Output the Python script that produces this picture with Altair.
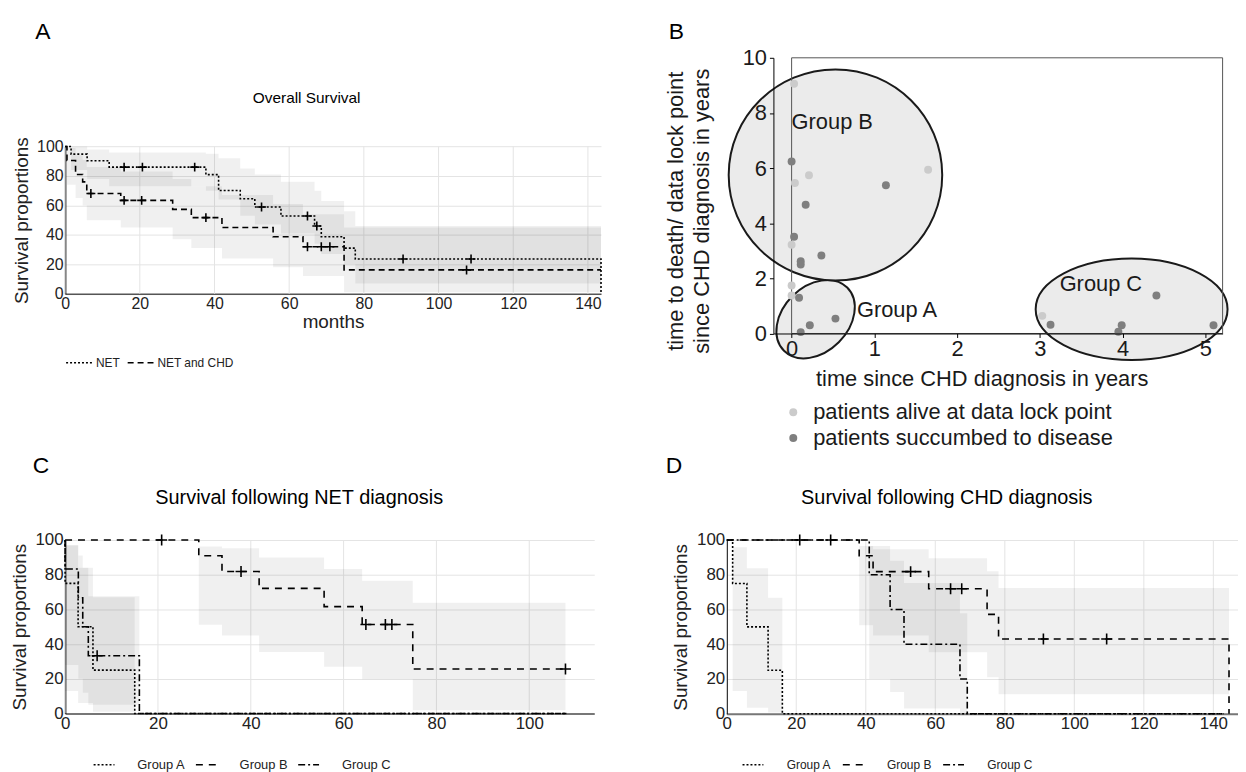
import altair as alt
import pandas as pd

FONT = "Liberation Sans"

# ================= Panel A : Overall Survival (months) =================
A_GROUPS = ["NET", "NET and CHD"]
A_NET_T = [0, 1.6, 5.9, 11.8, 37.7, 41.1, 46.9, 50.8, 57.8, 66.8, 68.6, 74.7, 77.7, 143.5, 143.5]
A_NET_S = [100, 94.8, 90.3, 86, 80.9, 70.1, 64.5, 58.9, 52.8, 46, 38.7, 31, 23.6, 23.6, 0]
A_CHD_T = [0, 0.5, 2.8, 4.7, 5.8, 14.9, 28.8, 33.8, 42, 55.7, 63.7, 74.7, 143.5]
A_CHD_S = [100, 90.5, 81, 76, 68.1, 63.4, 57.3, 51.7, 45, 38.7, 31.9, 16.2, 16.2]
A_NET_CT = [15.8, 20.7, 34.7, 52.6, 64.9, 67.4, 90.5, 108.7]
A_NET_CS = [86, 86, 86, 58.9, 52.8, 46, 23.6, 23.6]
A_CHD_CT = [6.9, 15.8, 20.5, 37.7, 64.9, 68.6, 70.9, 107.5]
A_CHD_CS = [68.1, 63.4, 63.4, 51.7, 31.9, 31.9, 31.9, 16.2]
A_NET_BT = [0, 1.6, 5.9, 11.8, 37.7, 41.1, 46.9, 50.8, 57.8, 66.8, 68.6, 74.7, 77.7, 143.5]
A_NET_BU = [100, 100, 98, 96, 95, 92, 85, 81, 76, 70, 63, 56, 46, 46]
A_NET_BL = [100, 84, 78, 73, 70, 64, 53, 47, 41, 34, 27, 20, 7, 7]
A_CHD_BT = [0, 0.5, 2.8, 4.7, 5.8, 14.9, 28.8, 33.8, 42, 55.7, 63.7, 74.7, 143.5]
A_CHD_BU = [100, 99, 94, 91, 86, 83, 78, 73, 67, 61, 54, 45, 45]
A_CHD_BL = [100, 74, 65, 60, 50, 45, 37, 31, 24, 18, 12, 1, 1]
A_XTICKS = [0, 20, 40, 60, 80, 100, 120, 140]
A_XMAX = 143.5

# ================= Panel B : scatter =================
B_STATUS = ["patients alive at data lock point", "patients succumbed to disease"]
B_ALIVE_X = [0.03, 0.21, 0.04, 1.65, 0.0, 0.0, 0.0, 3.03]
B_ALIVE_Y = [9.06, 5.74, 5.46, 5.94, 3.22, 1.74, 1.38, 0.64]
B_DEAD_X = [0.0, 1.14, 0.17, 0.03, 0.36, 0.11, 0.11, 0.09, 0.53, 0.22, 0.11, 3.13, 3.99, 3.95, 4.41, 5.10]
B_DEAD_Y = [6.24, 5.38, 4.67, 3.51, 2.83, 2.62, 2.50, 1.30, 0.54, 0.30, 0.05, 0.32, 0.30, 0.06, 1.38, 0.30]
B_GROUP_LABELS = ["Group A", "Group B", "Group C"]
B_GROUP_CX = [0.29, 0.53, 4.11]
B_GROUP_CY = [0.52, 5.75, 0.88]
B_LABEL_X = [0.79, 0.0, 3.24]
B_LABEL_Y = [0.86, 7.68, 1.80]
B_XTICKS = [0, 1, 2, 3, 4, 5]
B_YTICKS = [0, 2, 4, 6, 8, 10]
B_XMIN, B_XMAX = -0.22, 5.21

# ================= Panel C : following NET diagnosis =================
GROUPS = ["Group A", "Group B", "Group C"]
C_A_T = [0, 0, 2.8, 6, 15, 108]
C_A_S = [100, 75, 50, 25, 0, 0]
C_B_T = [0, 28.8, 33.8, 41.8, 55.8, 64, 74.9, 107.8]
C_B_S = [100, 90.9, 81.8, 72.1, 61.6, 51.3, 25.6, 25.6]
C_C_T = [0, 0, 2.85, 3.8, 5, 16, 108]
C_C_S = [100, 83.3, 66.7, 50, 33.3, 0, 0]
C_B_CT = [20.8, 37.9, 64.8, 69, 70.4, 107.8]
C_B_CS = [100, 81.8, 51.3, 51.3, 51.3, 25.6]
C_C_CT = [6.9]
C_C_CS = [33.3]
C_A_BT = [0, 2.8, 6, 15]
C_A_BU = [97, 84, 67, 67]
C_A_BL = [13, 6, 1, 1]
C_B_BT = [28.8, 33.8, 41.8, 55.8, 64, 74.9, 107.8]
C_B_BU = [96.2, 95.2, 89.9, 83.2, 76.5, 63.8, 63.8]
C_B_BL = [51.1, 45, 35.5, 26.9, 19.7, 1.9, 1.9]
C_C_BT = [0, 2.85, 3.8, 5, 16]
C_C_BU = [97, 91, 84, 67.5, 67.5]
C_C_BL = [28, 20, 12, 5, 5]
C_XTICKS = [0, 20, 40, 60, 80, 100]
C_XMAX = 114

# ================= Panel D : following CHD diagnosis =================
D_A_T = [0, 1.7, 5.8, 11.9, 16, 143]
D_A_S = [100, 75, 50, 25, 0, 0]
D_B_T = [0, 38.1, 42.1, 58.1, 74.9, 78.2, 144.5, 144.5]
D_B_S = [100, 90.9, 81.8, 71.9, 57.2, 43, 43, 0]
D_C_T = [0, 41, 47, 51, 67.1, 69.2, 143]
D_C_S = [100, 80, 60, 40, 20, 0, 0]
D_B_CT = [52.9, 64.4, 67.6, 91.1, 109.3]
D_B_CS = [81.8, 71.9, 71.9, 43, 43]
D_C_CT = [21, 29.9]
D_C_CS = [100, 100]
D_A_BT = [1.7, 5.8, 11.9, 16]
D_A_BU = [95.8, 83.8, 66.7, 66.7]
D_A_BL = [13.1, 3.4, 0.8, 0.8]
D_B_BT = [38.1, 42.1, 58.1, 74.9, 78.2, 144.5]
D_B_BU = [96.6, 94.7, 89.5, 82, 72.4, 72.4]
D_B_BL = [51, 45, 35.4, 21, 11.2, 11.2]
D_C_BT = [41, 47, 51, 67.1, 69.2]
D_C_BU = [96.6, 88, 75.3, 57.8, 57.8]
D_C_BL = [20, 12.5, 3, 0, 0]
D_XTICKS = [0, 20, 40, 60, 80, 100, 120, 140]
D_XMAX = 147

Y_TICKS = [0, 20, 40, 60, 80, 100]
GRID = "#e4e4e4"


# ---------------- helpers to build tables ----------------
def steps_df(items):
    rows = []
    for g, ts, ss in items:
        for i, (t, s) in enumerate(zip(ts, ss)):
            rows.append({"t": t, "s": s, "g": g, "o": i})
    return pd.DataFrame(rows)


def band_df(items):
    rows = []
    for g, ts, us, ls in items:
        for t, u, l in zip(ts, us, ls):
            rows.append({"t": t, "s": u, "s2": l, "g": g})
    return pd.DataFrame(rows)


def cens_df(items):
    rows = []
    for g, ts, ss in items:
        for t, s in zip(ts, ss):
            rows.append({"t": t, "s": s, "g": g})
    return pd.DataFrame(rows)


def label(txt, x, y, size, align="center"):
    return alt.Chart(pd.DataFrame({"txt": [txt]})).mark_text(
        x=x, y=y, fontSize=size, align=align, baseline="middle", color="black", font=FONT
    ).encode(text="txt:N")


PLUS = "M0,-1L0,1M-1,0L1,0"


def km_panel(lines, bands, cens, groups, dashes, xmax, xticks, width, height, plot_top,
             x_axis, y_axis, legend, cens_size, texts):
    xs = alt.Scale(domain=[0, xmax], nice=False, zero=False)
    ys = alt.Scale(domain=[0, 100], nice=False, range=[height, plot_top])
    X = lambda f: alt.X(f, scale=xs, axis=x_axis)
    Y = lambda f: alt.Y(f, scale=ys, axis=y_axis)
    vgrid = alt.Chart(pd.DataFrame({"t": xticks, "lo": [0] * len(xticks), "hi": [100] * len(xticks)})).mark_rule(
        color=GRID, strokeWidth=1
    ).encode(x=X("t:Q"), y=Y("lo:Q"), y2="hi:Q")
    band = alt.Chart(bands).mark_area(
        interpolate="step-after", fill="black", fillOpacity=0.06
    ).encode(x=X("t:Q"), y=Y("s:Q"), y2="s2:Q", detail="g:N")
    line = alt.Chart(lines).mark_line(
        interpolate="step-after", color="black", strokeWidth=1.6
    ).encode(
        x=X("t:Q"),
        y=Y("s:Q"),
        order="o:Q",
        strokeDash=alt.StrokeDash("g:N", scale=alt.Scale(domain=groups, range=dashes), legend=legend),
    )
    cen = alt.Chart(cens).mark_point(
        shape=PLUS, size=cens_size, filled=False, stroke="black", strokeWidth=1.6, opacity=1
    ).encode(x=X("t:Q"), y=Y("s:Q"))
    return alt.layer(vgrid, band, line, cen, *texts).properties(width=width, height=height)


def km_axes(xticks, xtitle, label_size, title_size, title_x, title_y, x_domain_color, x_domain_width,
            xtitle_y=None):
    xkw = dict(values=xticks, ticks=False, labelPadding=2, labelFontSize=label_size, labelColor="#222222",
               labelFlush=False, labelOverlap=False, grid=False,
               domainColor=x_domain_color, domainWidth=x_domain_width)
    if xtitle:
        xkw.update(title=xtitle, titleFontSize=title_size, titleFontWeight="normal", titleColor="#222222",
                   titleY=xtitle_y, titleBaseline="middle")
    else:
        xkw.update(title="")
    x_axis = alt.Axis(**xkw)
    y_axis = alt.Axis(values=Y_TICKS, tickCount=len(Y_TICKS), ticks=False, labelPadding=2,
                      labelFontSize=label_size, labelColor="#222222", labelOverlap=False,
                      labelSeparation=0, grid=True, gridColor=GRID,
                      domainColor="black", domainWidth=1.5, title="Survival proportions",
                      titleFontSize=title_size, titleFontWeight="normal", titleColor="#222222",
                      titleX=title_x, titleY=title_y, titleBaseline="middle", titleAngle=270)
    return x_axis, y_axis


def km_legend(x, y, size, sym_len, offset, colpad):
    return alt.Legend(title=None, orient="none", legendX=x, legendY=y, direction="horizontal",
                      symbolType="stroke", symbolSize=sym_len * sym_len, symbolStrokeColor="black",
                      symbolStrokeWidth=1.5, labelFontSize=size, labelColor="#222222",
                      labelOffset=offset, columnPadding=colpad, padding=0, labelLimit=300)


# ---------------- Panel A ----------------
# view top is shared with panel B; the survival scale occupies the lower part of the view
WA, HA = 539.6, 237.6
A_PLOT_TOP = 89.3
ax_a, ay_a = km_axes(A_XTICKS, "months", 16, 19, -44.3, (A_PLOT_TOP + HA) / 2, "#555555", 1.5, 28.2)
panel_a = km_panel(
    steps_df([(A_GROUPS[0], A_NET_T, A_NET_S), (A_GROUPS[1], A_CHD_T, A_CHD_S)]),
    band_df([(A_GROUPS[0], A_NET_BT, A_NET_BU, A_NET_BL), (A_GROUPS[1], A_CHD_BT, A_CHD_BU, A_CHD_BL)]),
    cens_df([(A_GROUPS[0], A_NET_CT, A_NET_CS), (A_GROUPS[1], A_CHD_CT, A_CHD_CS)]),
    A_GROUPS, [[2, 2], [6, 4]], A_XMAX, A_XTICKS, WA, HA, A_PLOT_TOP, ax_a, ay_a,
    km_legend(0, 292.3, 12, 27, 2, 5), 81,
    [label("A", -22.3, -25.7, 23), label("Overall Survival", 243.2, 40.8, 15.5)],
)

# ---------------- Panel B ----------------
WB, HB = 452.3, 277.6
bxs = alt.Scale(domain=[B_XMIN, B_XMAX], nice=False, zero=False)
bys = alt.Scale(domain=[0, 10], nice=False)


def ellipse_path(rx, ry):
    k = 0.5523
    f = lambda v: f"{v:.4f}"
    return (f"M{f(rx)},0 C{f(rx)},{f(k*ry)} {f(k*rx)},{f(ry)} 0,{f(ry)} "
            f"C{f(-k*rx)},{f(ry)} {f(-rx)},{f(k*ry)} {f(-rx)},0 "
            f"C{f(-rx)},{f(-k*ry)} {f(-k*rx)},{f(-ry)} 0,{f(-ry)} "
            f"C{f(k*rx)},{f(-ry)} {f(rx)},{f(-k*ry)} {f(rx)},0 Z")


# ellipse styles: (path x-radius, path y-radius, pixel scale radius, rotation)
ELLIPSE_STYLE = [(0.733, 1.0, 45, 45), (1.0, 0.989, 107.5, 0), (1.0, 0.528, 96.6, 0)]

ellipses = []
for i, (rx, ry, r, ang) in enumerate(ELLIPSE_STYLE):
    ellipses.append(
        alt.Chart(pd.DataFrame({"x": [B_GROUP_CX[i]], "y": [B_GROUP_CY[i]]})).mark_point(
            shape=ellipse_path(rx, ry), size=(2 * r) ** 2, angle=ang, filled=True,
            fill="#ebebeb", stroke="#1a1a1a", strokeWidth=2, opacity=1
        ).encode(x=alt.X("x:Q", scale=bxs), y=alt.Y("y:Q", scale=bys))
    )

b_x_axis = alt.Axis(values=B_XTICKS, format="d", title="time since CHD diagnosis in years", titleX=209.7,
                    titleY=45.7, titleBaseline="middle", titleFontSize=22, titleFontWeight="normal",
                    titleColor="#1a1a1a", labelFontSize=22, labelColor="#1a1a1a", tickSize=4,
                    tickColor="black", labelPadding=1, grid=False, domainColor="black", domainWidth=1,
                    labelFlush=False, labelOverlap=False, zindex=1)
b_y_axis = alt.Axis(values=B_YTICKS, format="d",
                    title=["time to death/ data lock point", "since CHD diagnosis in years"],
                    titleX=-99, titleY=154, titleBaseline="middle", titleAngle=270, titleLineHeight=27,
                    titleFontSize=22, titleFontWeight="normal", titleColor="#1a1a1a",
                    labelFontSize=22, labelColor="#1a1a1a", tickSize=4, tickColor="black", labelPadding=3,
                    labelOverlap=False, grid=False, domainColor="black", domainWidth=1, zindex=1)

frame = alt.Chart(pd.DataFrame({"x": [0.0], "x2": [B_XMAX], "y": [0.0], "y2": [10.0]})).mark_rect(
    fillOpacity=0, stroke="#555555", strokeWidth=1
).encode(
    x=alt.X("x:Q", scale=bxs, axis=b_x_axis), x2="x2:Q",
    y=alt.Y("y:Q", scale=bys, axis=b_y_axis), y2="y2:Q",
)

pts_df = pd.DataFrame({
    "x": B_ALIVE_X + B_DEAD_X,
    "y": B_ALIVE_Y + B_DEAD_Y,
    "status": [B_STATUS[0]] * len(B_ALIVE_X) + [B_STATUS[1]] * len(B_DEAD_X),
})
points = alt.Chart(pts_df).mark_circle(size=64, opacity=1).encode(
    x="x:Q", y="y:Q",
    color=alt.Color("status:N", scale=alt.Scale(domain=B_STATUS, range=["#cbcbcb", "#7f7f7f"]),
                    legend=alt.Legend(title=None, orient="none", legendX=9, legendY=345.8,
                                      direction="vertical", symbolType="circle", symbolSize=64,
                                      symbolStrokeWidth=0, labelFontSize=22, labelColor="#1a1a1a",
                                      labelOffset=9, rowPadding=4, padding=0, labelLimit=500)),
)
glabels = alt.Chart(pd.DataFrame({"x": B_LABEL_X, "y": B_LABEL_Y, "txt": B_GROUP_LABELS})).mark_text(
    align="left", baseline="middle", fontSize=22, color="#1a1a1a", font=FONT
).encode(x="x:Q", y="y:Q", text="txt:N")

panel_b = alt.layer(*ellipses, frame, points, glabels, label("B", -97.6, -25.7, 23)).properties(
    width=WB, height=HB)

# ---------------- Panel C ----------------
WC, HC = 532.8, 174.7
ax_c, ay_c = km_axes(C_XTICKS, None, 17, 19, -46.3, HC / 2, "#777777", 2)
DASHES = [[2, 2], [7, 6], [7, 3, 2, 3]]
panel_c = km_panel(
    steps_df([(GROUPS[0], C_A_T, C_A_S), (GROUPS[1], C_B_T, C_B_S), (GROUPS[2], C_C_T, C_C_S)]),
    band_df([(GROUPS[0], C_A_BT, C_A_BU, C_A_BL), (GROUPS[1], C_B_BT, C_B_BU, C_B_BL),
             (GROUPS[2], C_C_BT, C_C_BU, C_C_BL)]),
    cens_df([(GROUPS[1], C_B_CT, C_B_CS), (GROUPS[2], C_C_CT, C_C_CS)]),
    GROUPS, DASHES, C_XMAX, C_XTICKS, WC, HC, 0, ax_c, ay_c,
    km_legend(27.7, 214.5, 13, 21, 22, 7), 121,
    [label("C", -24.3, -74, 23), label("Survival following NET diagnosis", 235.7, -42, 20)],
)

# ---------------- Panel D ----------------
WD, HD = 514.5, 175.0
ax_d, ay_d = km_axes(D_XTICKS, None, 17, 19, -46.3, HD / 2, "#777777", 2)
panel_d = km_panel(
    steps_df([(GROUPS[0], D_A_T, D_A_S), (GROUPS[1], D_B_T, D_B_S), (GROUPS[2], D_C_T, D_C_S)]),
    band_df([(GROUPS[0], D_A_BT, D_A_BU, D_A_BL), (GROUPS[1], D_B_BT, D_B_BU, D_B_BL),
             (GROUPS[2], D_C_BT, D_C_BU, D_C_BL)]),
    cens_df([(GROUPS[1], D_B_CT, D_B_CS), (GROUPS[2], D_C_CT, D_C_CS)]),
    GROUPS, DASHES, D_XMAX, D_XTICKS, WD, HD, 0, ax_d, ay_d,
    km_legend(14.9, 214.5, 12, 21, 22.5, 8), 121,
    [label("D", -53, -74, 23), label("Survival following CHD diagnosis", 221.6, -42, 20)],
)

RES = dict(x="independent", y="independent", strokeDash="independent", color="independent")

row1 = alt.hconcat(panel_a, panel_b, spacing=60.2).resolve_scale(**RES).resolve_legend(
    strokeDash="independent", color="independent")
row2 = alt.hconcat(panel_c, panel_d, spacing=71.2).resolve_scale(**RES).resolve_legend(
    strokeDash="independent", color="independent")

chart = alt.vconcat(row1, row2, spacing=6.5).resolve_scale(**RES).resolve_legend(
    strokeDash="independent", color="independent"
).properties(
    padding={"left": 1.5, "top": 10.5, "right": 0, "bottom": 0}
).configure(font=FONT).configure_axis(labelOverlap=False).configure_view(strokeWidth=0)

chart.save("out.html", embed_options={"renderer": "svg", "actions": False})
